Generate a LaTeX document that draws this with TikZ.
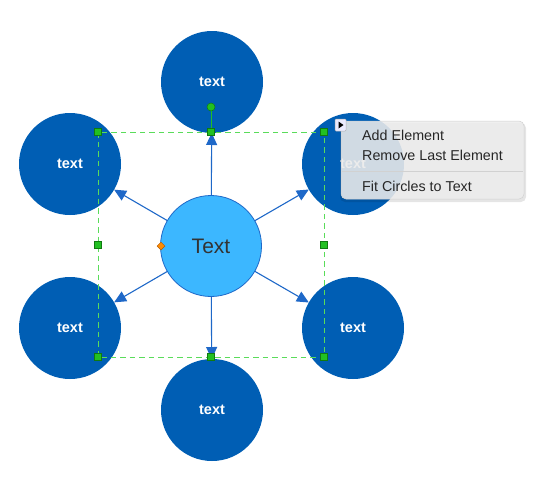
\documentclass[tikz,border=0pt]{standalone}
\usepackage{fontspec}
\setmainfont{Liberation Sans}
\usetikzlibrary{arrows.meta,shapes.geometric}
\definecolor{outerblue}{HTML}{005EB4}
\definecolor{innerblue}{HTML}{3CB7FF}
\definecolor{arrowblue}{HTML}{1E68C8}
\definecolor{selgreen}{HTML}{5ADC5A}
\definecolor{handlefill}{HTML}{22C022}
\definecolor{handledraw}{HTML}{107A10}
\definecolor{menufill}{HTML}{EDEDED}
\tikzset{
  outer/.style={circle,fill=outerblue,minimum size=102pt,inner sep=0pt,outer sep=0pt,
    text=white,font=\fontsize{14.5}{16}\selectfont\bfseries},
  inner/.style={circle,fill=innerblue,draw=arrowblue,line width=0.8pt,minimum size=101pt,inner sep=0pt,outer sep=0pt,
    text=black!80,font=\fontsize{21}{24}\selectfont},
  conn/.style={draw=arrowblue,line width=1.1pt,-{Triangle[length=12pt,width=11pt]}},
  handle/.style={rectangle,fill=handlefill,draw=handledraw,line width=0.5pt,minimum size=7pt,inner sep=0pt},
  menuitem/.style={anchor=west,inner sep=0pt,font=\fontsize{14.3}{16}\selectfont,text=black!85},
}
\begin{document}
\begin{tikzpicture}[x=1pt,y=-1pt]
\useasboundingbox (0,0) rectangle (551,488);
% circles
\node[inner] (c) at (211,246) {Text};
\node[outer] (t)  at (212,82)  {text};
\node[outer] (tl) at (70,164)  {text};
\node[outer] (tr) at (353,164) {text};
\node[outer] (bl) at (70,328)  {text};
\node[outer] (br) at (353,328) {text};
\node[outer] (b)  at (212,410) {text};
% connectors
\draw[conn] (c) -- (t);
\draw[conn] (c) -- (tl);
\draw[conn] (c) -- (tr);
\draw[conn] (c) -- (bl);
\draw[conn] (c) -- (br);
\draw[conn] (c) -- (b);
% selection
\draw[selgreen,line width=1pt,dash pattern=on 5.5pt off 4pt] (98,132) rectangle (324,357);
\draw[handlefill,line width=1pt] (211,107) -- (211,132);
\node[circle,fill=handlefill,draw=handledraw,line width=0.5pt,minimum size=8pt,inner sep=0pt] (rot) at (211,107) {};
\foreach \x/\y [count=\i] in {98/132,211/132,324/132,98/245,324/245,98/357,211/357,324/357}
  \node[handle] (h\i) at (\x,\y) {};
\node[diamond,fill=orange!90!yellow,draw=orange!70!black,line width=0.5pt,minimum size=8pt,inner sep=0pt] (dia) at (161,246) {};
% context menu
\fill[black,opacity=0.10,rounded corners=5pt] (340,123) rectangle (526,202);
\path[fill=menufill,fill opacity=0.88,draw=black!18,line width=0.5pt,rounded corners=5pt] (341,121) rectangle (524,199);
\draw[black!18,line width=1pt] (342,171) -- (523,171);
\node[menuitem] (m1) at (362,135) {Add Element};
\node[menuitem] (m2) at (362,155) {Remove Last Element};
\node[menuitem] (m3) at (362,186) {Fit Circles to Text};
\path[fill=white!92!blue,draw=black!30,line width=0.5pt,rounded corners=1pt] (335,119) rectangle (346,131);
\fill[black] (338.5,121.5) -- (343.5,125) -- (338.5,128.5) -- cycle;
\end{tikzpicture}
\end{document}
